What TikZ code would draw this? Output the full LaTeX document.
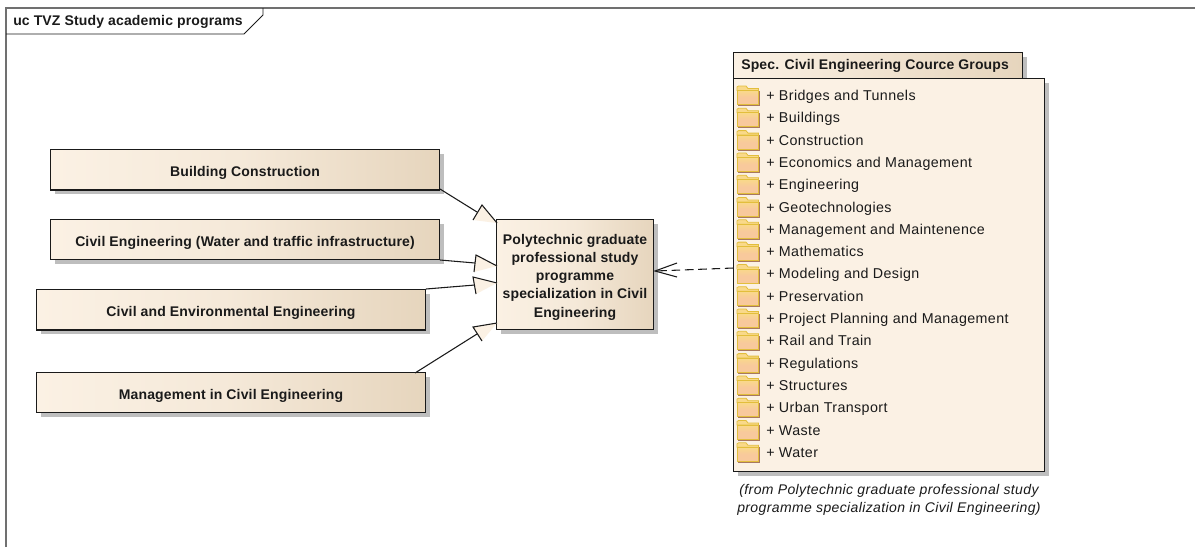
\documentclass[tikz,border=0pt]{standalone}
\usepackage{fontspec}
\setmainfont{Liberation Sans}
\newfontfamily\boldlbl[LetterSpace=1.1]{Liberation Sans Bold}
\newfontfamily\itemfont[LetterSpace=2.8]{Liberation Sans}
\newfontfamily\itfont[LetterSpace=2.7]{Liberation Sans Italic}
\definecolor{light}{HTML}{FBF1E4}
\definecolor{dark}{HTML}{E6D5BD}
\definecolor{shadow}{HTML}{BEBEBE}
\definecolor{ink}{HTML}{1A1A1A}
\definecolor{framegray}{HTML}{707070}
\definecolor{foldfill}{HTML}{F8C99C}
\definecolor{foldtop}{HTML}{F9D98A}
\definecolor{foldedge}{HTML}{E2BE3C}
\definecolor{foldshade}{HTML}{A87860}
\tikzset{
  x=0.75pt,y=-0.75pt,
  lbl/.style={font=\fontsize{10.5}{11}\boldlbl,text=ink,align=center},
  itemlbl/.style={font=\fontsize{10.7}{11}\itemfont,text=ink,anchor=base west,inner sep=0pt},
  ink line/.style={draw=ink,line width=0.8pt},
  edge line/.style={draw=ink,line width=0.8pt},
}
\newcommand{\ucbox}[5]{% name, x1, y1, x2, y2
  \fill[shadow] (#2+4,#3+4) rectangle (#4+4,#5+4);
  \draw[ink line,left color=light,right color=dark,middle color=light!70!dark] (#2,#3) rectangle (#4,#5);
  \coordinate (#1) at ({(#2+#4)/2},{(#3+#5)/2+3});
}
\newcommand{\folder}[1]{%
  \begin{scope}[shift={(737,#1)}]
    \fill[foldshade] (1,-5) rectangle (23,10.5);
    \draw[draw=foldedge,fill=foldtop,line width=0.6pt] (0,-5) -- (0,-8.5) -- (1.5,-9.5) -- (9,-9.5) -- (11,-7) -- (21.5,-7) -- (21.5,-5) -- cycle;
    \draw[draw=foldedge,top color=foldtop,bottom color=foldfill,middle color=foldfill,line width=0.6pt] (0,-5) rectangle (21.5,9);
  \end{scope}
}
\begin{document}
\begin{tikzpicture}
\useasboundingbox (0,0) rectangle (1195,547);
\fill[white] (0,0) rectangle (1195,547);
% frame
\draw[draw=framegray,line width=1pt] (6,547) -- (6,8) -- (1195,8);
\draw[draw=ink,line width=0.7pt] (6,34) -- (244,34) -- (263,15) -- (263,8);
\node[lbl,anchor=west,inner sep=0pt] (frametitle) at (13,21.5) {uc TVZ Study academic programs};
% boxes
\ucbox{b1}{50.5}{149.5}{439.5}{190}
\node[lbl] (n1) at (b1) {Building Construction};
\ucbox{b2}{50.5}{219.5}{439.5}{259.5}
\node[lbl] (n2) at (b2) {Civil Engineering (Water and traffic infrastructure)};
\ucbox{b3}{36.5}{289.5}{425.5}{330}
\node[lbl] (n3) at (b3) {Civil and Environmental Engineering};
\ucbox{b4}{36.5}{372.5}{425.5}{412.5}
\node[lbl] (n4) at (b4) {Management in Civil Engineering};
\ucbox{b5}{496.5}{219.5}{653.5}{329.5}
\node[lbl,font=\fontsize{10.5}{13.7}\boldlbl] (n5) at (575,277) {Polytechnic graduate\\professional study\\programme\\specialization in Civil\\Engineering};
% package
\fill[shadow] (737.5,56.5) rectangle (1026.5,82.5);
\fill[shadow] (737.5,82.5) rectangle (1048.5,475.5);
\draw[ink line,left color=light,right color=dark] (733.5,52.5) rectangle (1022.5,78.5);
\draw[ink line,fill=light] (733.5,78.5) rectangle (1044.5,471.5);
\coordinate (pk) at (733.5,268);
\node[lbl,anchor=west,inner sep=0pt] (pkt) at (741,66) {Spec. Civil Engineering Cource Groups};
\foreach \y/\t [count=\i] in {95.5/Bridges and Tunnels,117.8/Buildings,140.1/Construction,162.4/Economics and Management,184.7/Engineering,207/Geotechnologies,229.3/Management and Maintenence,251.6/Mathematics,273.9/Modeling and Design,296.2/Preservation,318.5/Project Planning and Management,340.8/Rail and Train,363.1/Regulations,385.4/Structures,407.7/Urban Transport,430/Waste,452.3/Water}{
  \folder{\y}
  \node[itemlbl] (it\i) at (766,\y+5) {+ \t};
}
\node[font=\fontsize{10.5}{13.5}\itfont,text=ink,align=center,anchor=north] (from) at (889,480) {(from Polytechnic graduate professional study\\programme specialization in Civil Engineering)};
% generalisations
\coordinate (g1) at (477,212); \coordinate (g2) at (475,263); \coordinate (g3) at (475,285); \coordinate (g4) at (477,334);
\draw[edge line] (440,189) -- (g1);
\draw[edge line] (440,260) -- (g2);
\draw[edge line] (426,289) -- (g3);
\draw[edge line] (415,373) -- (g4);
\path[fill=light] (482,205) -- (497,223) -- (473,220) -- cycle;
\draw[edge line] (473,220) -- (482,205) -- (497,223);
\path[fill=light] (476,255) -- (497,266) -- (474,272) -- cycle;
\draw[edge line] (474,272) -- (476,255) -- (497,266);
\path[fill=light] (473,277) -- (497,283) -- (476,294) -- cycle;
\draw[edge line] (476,294) -- (473,277) -- (497,283);
\path[fill=light] (473,327) -- (497,323) -- (482,341) -- cycle;
\draw[edge line] (482,341) -- (473,327) -- (497,323);
% dependency
\coordinate (tip) at (655,271);
\draw[edge line,dash pattern=on 6.5pt off 3.5pt] (pk) -- (tip);
\draw[edge line] (677,263) -- (tip) -- (677,277);
\end{tikzpicture}
\end{document}
